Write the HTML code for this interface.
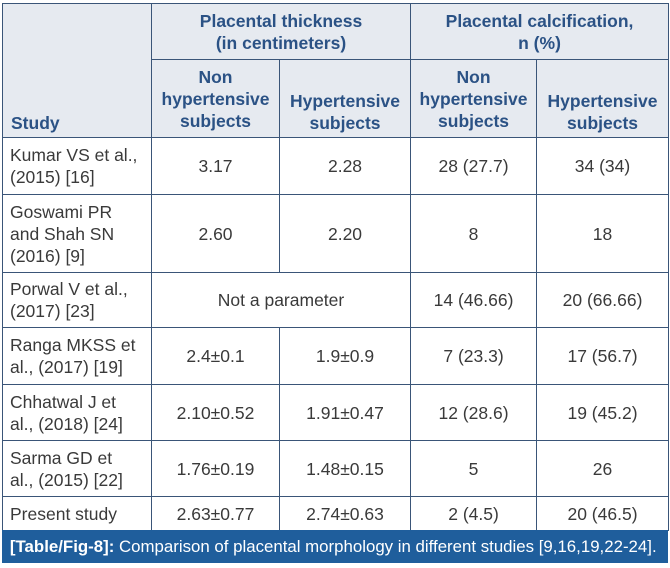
<!DOCTYPE html>
<html><head><meta charset="utf-8"><style>
body{margin:0;width:670px;height:568px;background:#fff;font-family:"Liberation Sans",sans-serif;position:relative;overflow:hidden}
table{position:absolute;left:2px;top:3px;border-collapse:collapse;table-layout:fixed;width:666px}
td,th{border:1.5px solid #3a5578;padding:0 4px;font-size:17.5px;color:#3a3a3a;text-align:center;line-height:22px;font-weight:normal;overflow:hidden}
th{background:#e6eaf0;color:#2b5285;font-weight:bold}
td.s{text-align:left;padding-left:7px}
th.s{text-align:left;vertical-align:bottom;padding-left:8px;padding-bottom:3px}
.cap{position:absolute;left:2px;top:530px;width:666px;height:33px;background:#1f5e9c;color:#fff;font-size:17px;line-height:33px;white-space:nowrap;overflow:hidden}
.cap span.t{display:inline-block;transform:scaleX(0.99);transform-origin:left center;padding-left:8px}
</style></head><body>
<table>
<colgroup><col style="width:149px"><col style="width:128px"><col style="width:131px"><col style="width:126px"><col style="width:132px"></colgroup>
<tr style="height:56px">
<th class="s" rowspan="2">Study</th>
<th colspan="2">Placental thickness<br>(in centimeters)</th>
<th colspan="2">Placental calcification,<br>n (%)</th></tr>
<tr style="height:78px">
<th>Non<br>hypertensive<br>subjects</th>
<th style="vertical-align:bottom;padding-bottom:3px">Hypertensive<br>subjects</th>
<th>Non<br>hypertensive<br>subjects</th>
<th style="vertical-align:bottom;padding-bottom:3px">Hypertensive<br>subjects</th></tr>
<tr style="height:57px"><td class="s">Kumar VS et al.,<br>(2015) [16]</td><td>3.17</td><td>2.28</td><td>28 (27.7)</td><td>34 (34)</td></tr>
<tr style="height:78px"><td class="s">Goswami PR<br>and Shah SN<br>(2016) [9]</td><td>2.60</td><td>2.20</td><td>8</td><td>18</td></tr>
<tr style="height:55px"><td class="s">Porwal V et al.,<br>(2017) [23]</td><td colspan="2">Not a parameter</td><td>14 (46.66)</td><td>20 (66.66)</td></tr>
<tr style="height:57px"><td class="s">Ranga MKSS et<br>al., (2017) [19]</td><td>2.4±0.1</td><td>1.9±0.9</td><td>7 (23.3)</td><td>17 (56.7)</td></tr>
<tr style="height:56px"><td class="s">Chhatwal J et<br>al., (2018) [24]</td><td>2.10±0.52</td><td>1.91±0.47</td><td>12 (28.6)</td><td>19 (45.2)</td></tr>
<tr style="height:56px"><td class="s">Sarma GD et<br>al., (2015) [22]</td><td>1.76±0.19</td><td>1.48±0.15</td><td>5</td><td>26</td></tr>
<tr style="height:34px"><td class="s">Present study</td><td>2.63±0.77</td><td>2.74±0.63</td><td>2 (4.5)</td><td>20 (46.5)</td></tr>
</table>
<div class="cap"><span class="t"><b>[Table/Fig-8]:</b> Comparison of placental morphology in different studies [9,16,19,22-24].</span></div>
</body></html>
